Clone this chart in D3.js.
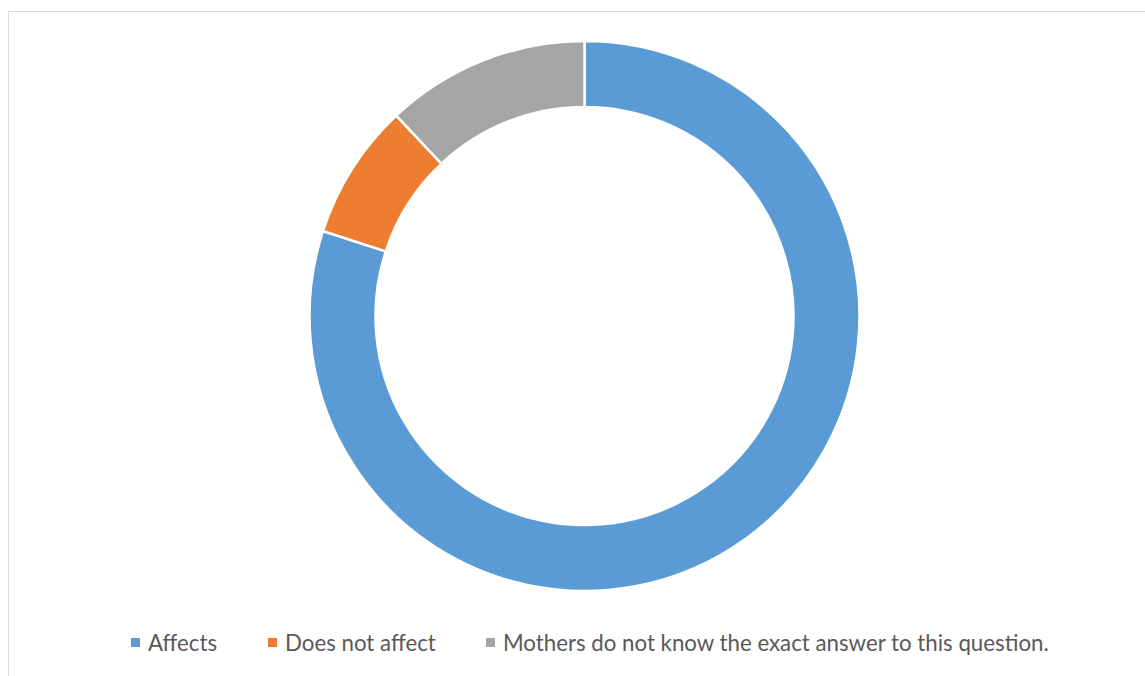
<!DOCTYPE html>
<html><head><meta charset="utf-8">
<script src="https://cdn.jsdelivr.net/npm/d3@7"></script>
<style>body{margin:0;background:#fff;} svg{display:block;}</style>
</head><body>
<svg id="chart" width="1145" height="676"></svg>
<script>
const categories = ["Affects", "Does not affect", "Mothers do not know the exact answer to this question."];
const values = [80, 8, 12];
const colors = ["#5b9bd5", "#ed7d31", "#a5a5a5"];

const svg = d3.select("#chart");
svg.append("rect").attr("x", 8.5).attr("y", 11.5).attr("width", 1160).attr("height", 700)
  .attr("fill", "#fff").attr("stroke", "#d9d9d9").attr("stroke-width", 1);

const cx = 584.5, cy = 316, rOuter = 275, rInner = 209;
const pie = d3.pie().sort(null).value(d => d)(values);
const arc = d3.arc().innerRadius(rInner).outerRadius(rOuter);
const g = svg.append("g").attr("transform", `translate(${cx},${cy})`);
g.selectAll("path").data(pie).join("path")
  .attr("d", arc).attr("fill", (d, i) => colors[i])
  .attr("stroke", "#fff").attr("stroke-width", 2.5).attr("stroke-linejoin", "round");

// legend
const markerX = [131, 268, 486];
const textX = [148, 285, 503];
const targetW = [67, 148, 546];
const leg = svg.append("g");
categories.forEach((c, i) => {
  leg.append("rect").attr("x", markerX[i]).attr("y", 638).attr("width", 9).attr("height", 9).attr("fill", colors[i]);
  const t = leg.append("text").attr("x", textX[i]).attr("y", 650.5)
    .attr("font-family", "Lato, 'Open Sans', sans-serif").attr("font-size", 20)
    .attr("fill", "#595959").text(c);
});
// adjust font size so long label fits its measured width
const texts = leg.selectAll("text").nodes();
const w = texts[2].getComputedTextLength();
const fs = 20 * targetW[2] / w;
texts.forEach(n => n.setAttribute("font-size", fs.toFixed(2)));
</script>
</body></html>
